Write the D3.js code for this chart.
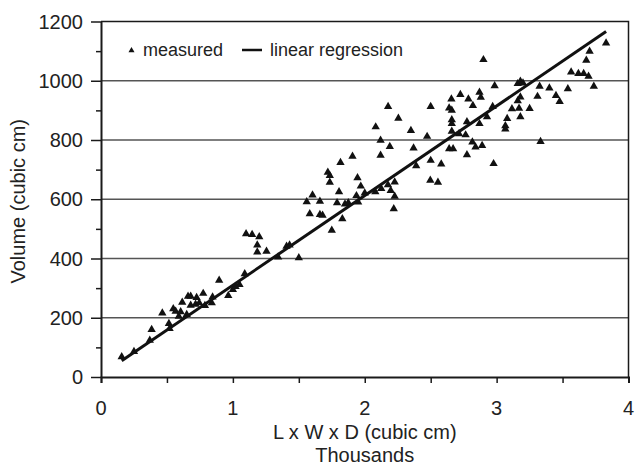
<!DOCTYPE html>
<html>
<head>
<meta charset="utf-8">
<script src="https://cdn.jsdelivr.net/npm/d3@7"></script>
<style>
  html, body { margin: 0; padding: 0; background: #fff; }
  svg { display: block; font-family: "Liberation Sans", Arial, sans-serif; }
</style>
</head>
<body>
<div id="chart"></div>
<script>
// measured points: L x W x D (thousands of cubic cm) vs volume (cubic cm)
const measuredX = [
  0.157, 0.25, 0.37, 0.384, 0.465, 0.515, 0.52, 0.548, 0.566, 0.59,
  0.604, 0.616, 0.65, 0.66, 0.68, 0.68, 0.717, 0.725, 0.745, 0.775,
  0.788, 0.84, 0.846, 0.896, 0.965, 1.0, 1.02, 1.05, 1.09, 1.1,
  1.146, 1.2, 1.185, 1.185, 1.255, 1.343, 1.407, 1.43, 1.5, 1.56,
  1.583, 1.604, 1.66, 1.66, 1.68, 1.72, 1.735, 1.735, 1.75, 1.79,
  1.805, 1.816, 1.83, 1.85, 1.875, 1.907, 1.937, 1.945, 1.95, 1.97,
  2.0, 2.08, 2.083, 2.12, 2.12, 2.125, 2.176, 2.177, 2.19, 2.197,
  2.22, 2.227, 2.227, 2.255, 2.35, 2.37, 2.39, 2.473, 2.5, 2.5,
  2.497, 2.555, 2.58, 2.64, 2.657, 2.66, 2.66, 2.66, 2.66, 2.64,
  2.67, 2.715, 2.725, 2.765, 2.775, 2.775, 2.786, 2.816, 2.82, 2.84,
  2.87, 2.88, 2.87, 2.89, 2.9, 2.927, 2.97, 2.977, 2.985, 3.066,
  3.066, 3.08, 3.116, 3.16, 3.18, 3.17, 3.16, 3.18, 3.2, 3.18,
  3.25, 3.31, 3.326, 3.333, 3.4, 3.45, 3.478, 3.54, 3.565, 3.62,
  3.66, 3.68, 3.697, 3.705, 3.737, 3.83
]
const measuredY = [
  68, 86, 124, 160, 216, 180, 163, 230, 222, 205,
  220, 252, 211, 272, 272, 242, 245, 268, 250, 282,
  241, 250, 270, 326, 275, 295, 305, 312, 348, 483,
  481, 473, 445, 422, 424, 405, 441, 445, 402, 591,
  551, 614, 593, 548, 546, 691, 680, 657, 495, 588,
  625, 724, 534, 584, 588, 745, 612, 672, 590, 644,
  621, 625, 844, 799, 748, 636, 649, 913, 778, 629,
  568, 658, 610, 873, 832, 773, 713, 812, 913, 731,
  664, 657, 719, 908, 938, 900, 868, 855, 829, 770,
  770, 821, 953, 817, 861, 750, 938, 793, 916, 776,
  961, 944, 855, 781, 1071, 878, 913, 720, 983, 848,
  837, 872, 905, 932, 945, 907, 990, 998, 992, 878,
  906, 947, 981, 795, 975, 950, 930, 973, 1029, 1024,
  1024, 1069, 1015, 1099, 981, 1127
]

// linear regression
const regSlope = 302.5
const regIntercept = 7.5
const regRange = [0.157, 3.83]

const xTicks = [0, 0.5, 1, 1.5, 2, 2.5, 3, 3.5, 4]
const xLabels = [0, 1, 2, 3, 4]
const yTicks = d3.range(0, 1201, 100)
const yGrid = [200, 400, 600, 800, 1000]
const yLabels = [0, 200, 400, 600, 800, 1000, 1200]

const w = 636
const h = 466
const margin = { top: 21.5, right: 7.5, bottom: 89, left: 101 }
const ink = '#1a1a1a'

const svg = d3.select('#chart').append('svg')
  .attr('width', w)
  .attr('height', h)

const x = d3.scaleLinear()
  .domain([0, 4])
  .range([margin.left, w - margin.right])

const y = d3.scaleLinear()
  .domain([0, 1200])
  .range([h - margin.bottom, margin.top])

// grid lines
svg.append('g')
  .selectAll('line')
  .data(yGrid)
  .join('line')
    .attr('x1', x(0))
    .attr('x2', x(4))
    .attr('y1', d => y(d))
    .attr('y2', d => y(d))
    .attr('stroke', '#555')
    .attr('stroke-width', 1.5)

// frame (top + right)
svg.append('path')
  .attr('d', `M${x(0)},${y(1200)}H${x(4)}V${y(0)}`)
  .attr('fill', 'none')
  .attr('stroke', ink)
  .attr('stroke-width', 1.5)

// y axis
const yAxis = svg.append('g')
  .attr('transform', `translate(${x(0)},0)`)
  .call(d3.axisLeft(y)
    .tickValues(yTicks)
    .tickSize(0)
    .tickFormat(''))
yAxis.select('.domain').attr('stroke', ink).attr('stroke-width', 2)
yAxis.selectAll('.tick line')
  .attr('x2', d => d % 200 === 0 ? -10 : -5)
  .attr('stroke', ink)
  .attr('stroke-width', 1.5)

svg.append('g')
  .selectAll('text')
  .data(yLabels)
  .join('text')
    .attr('x', 83)
    .attr('y', d => y(d))
    .attr('dy', '0.35em')
    .attr('text-anchor', 'end')
    .attr('font-size', 20)
    .attr('fill', '#222')
    .text(d => d)

// x axis
const xAxis = svg.append('g')
  .attr('transform', `translate(0,${y(0)})`)
  .call(d3.axisBottom(x)
    .tickValues(xTicks)
    .tickSize(6)
    .tickFormat(''))
xAxis.select('.domain').attr('stroke', ink).attr('stroke-width', 2)
xAxis.selectAll('.tick line').attr('stroke', ink).attr('stroke-width', 1.5)

svg.append('g')
  .selectAll('text')
  .data(xLabels)
  .join('text')
    .attr('x', d => x(d))
    .attr('y', 408)
    .attr('dy', '0.35em')
    .attr('text-anchor', 'middle')
    .attr('font-size', 20)
    .attr('fill', '#222')
    .text(d => d)

// axis titles
svg.append('text')
  .attr('x', x(2))
  .attr('y', 439)
  .attr('text-anchor', 'middle')
  .attr('font-size', 20)
  .attr('fill', '#222')
  .text('L x W x D (cubic cm)')

svg.append('text')
  .attr('x', x(2))
  .attr('y', 462)
  .attr('text-anchor', 'middle')
  .attr('font-size', 20)
  .attr('fill', '#222')
  .text('Thousands')

svg.append('text')
  .attr('transform', `translate(25,${y(600) + 2}) rotate(-90)`)
  .attr('text-anchor', 'middle')
  .attr('font-size', 20)
  .attr('fill', '#222')
  .text('Volume (cubic cm)')

// measured points
const points = measuredX.map((d, i) => [d, measuredY[i]])
const tri = d3.symbol(d3.symbolTriangle, 30)

svg.append('g')
  .selectAll('path')
  .data(points)
  .join('path')
    .attr('transform', d => `translate(${x(d[0])},${y(d[1])})`)
    .attr('d', tri)
    .attr('fill', '#111')

// regression line
const line = d3.line()
  .x(d => x(d))
  .y(d => y(regSlope * d + regIntercept))

svg.append('path')
  .datum(regRange)
  .attr('d', line)
  .attr('fill', 'none')
  .attr('stroke', '#111')
  .attr('stroke-width', 3)

// legend
const legend = svg.append('g')
  .attr('transform', 'translate(0,50)')

legend.append('path')
  .attr('transform', 'translate(131.5,0.5)')
  .attr('d', d3.symbol(d3.symbolTriangle, 16))
  .attr('fill', '#111')

legend.append('text')
  .attr('x', 143)
  .attr('y', 0)
  .attr('dy', '0.35em')
  .attr('font-size', 18)
  .attr('fill', '#222')
  .text('measured')

legend.append('line')
  .attr('x1', 242)
  .attr('x2', 262)
  .attr('stroke', '#111')
  .attr('stroke-width', 2.5)

legend.append('text')
  .attr('x', 270)
  .attr('y', 0)
  .attr('dy', '0.35em')
  .attr('font-size', 18)
  .attr('fill', '#222')
  .text('linear regression')
</script>
</body>
</html>
